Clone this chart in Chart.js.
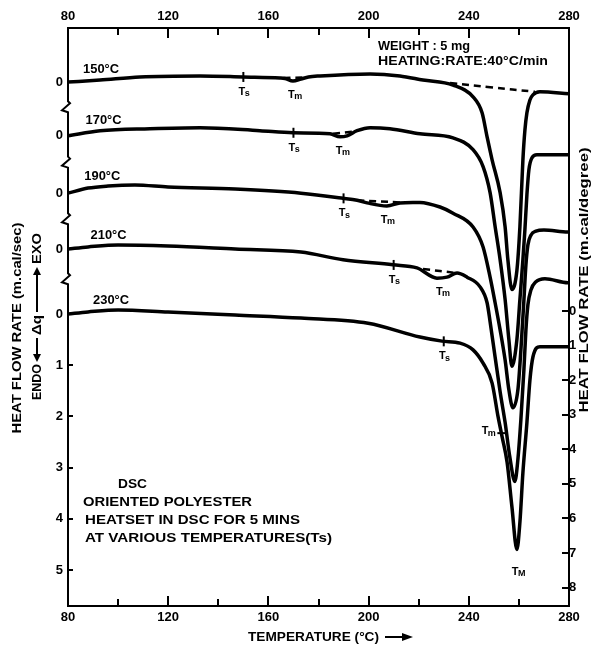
<!DOCTYPE html>
<html>
<head>
<meta charset="utf-8">
<script src="https://cdn.jsdelivr.net/npm/chart.js@4/dist/chart.umd.min.js"></script>
<style>
html,body{margin:0;padding:0;background:#fff;}
#wrap{width:591px;height:646px;}
</style>
</head>
<body>
<div id="wrap"><canvas id="c" width="591" height="646"></canvas></div>
<script>
// ---------------- DATA ----------------
const xTickLabels = [80, 120, 160, 200, 240, 280];
const leftTickValues = [1, 2, 3, 4, 5];          // m.cal/sec (230 °C curve)
const rightTickValues = [0, 1, 2, 3, 4, 5, 6, 7, 8]; // m.cal/degree
const curveNames = ['150°C', '170°C', '190°C', '210°C', '230°C'];
const heatsetTemps = [150, 170, 190, 210, 230];   // Ts
const meltTemps = [170, 189, 207, 229, 253];      // Tm
const peakMeltTemp = 259.2;                       // TM
const baselineOffsets = [-4.53, -3.48, -2.36, -1.27, 0]; // zero of each trace on the left scale

const temp150 = [80, 92.8, 108.7, 132.7, 149.9, 164.6, 166.6, 169.8, 173.0, 176.0, 180.6, 200.6, 212.5, 221.7, 233.7, 241.7, 245.3, 247.3, 249.3, 252.5, 254.5, 255.6, 257.2, 259.2, 260.4, 261.6, 262.4, 263.2, 264.4, 265.6, 268.4, 280];
const flow150 = [0, -0.04, -0.10, -0.12, -0.10, -0.08, -0.07, -0.02, -0.06, -0.10, -0.12, -0.16, -0.12, -0.04, 0.06, 0.29, 0.60, 1.07, 1.52, 2.16, 2.83, 3.47, 4.05, 3.68, 2.83, 1.52, 0.94, 0.60, 0.35, 0.25, 0.19, 0.23];

const temp170 = [80, 92.8, 112.7, 132.7, 156.6, 169.8, 184.6, 188.6, 191.4, 195.4, 200.6, 208.5, 220.5, 233.7, 241.7, 245.7, 248.5, 250.5, 252.5, 254.5, 256.0, 257.2, 259.2, 260.4, 261.6, 262.4, 263.2, 264.0, 265.2, 267.2, 280];
const flow170 = [0, -0.10, -0.14, -0.16, -0.10, -0.06, -0.04, 0.02, 0.00, -0.10, -0.16, -0.14, -0.04, 0.04, 0.27, 0.60, 1.11, 1.77, 2.42, 3.20, 3.98, 4.50, 3.98, 3.20, 2.42, 1.83, 1.15, 0.66, 0.43, 0.37, 0.37];

const temp190 = [80, 88, 96, 106.7, 119.9, 146.7, 173, 189.8, 195.4, 199.4, 207.3, 212.5, 217.7, 220.5, 228.5, 233.7, 241.7, 245.7, 248.5, 250.5, 252.5, 254.5, 256.0, 257.6, 259.6, 260.8, 262.0, 262.8, 263.6, 264.8, 266.8, 270.0, 279.6, 280];
const flow190 = [0, -0.10, -0.14, -0.16, -0.12, -0.08, 0, 0.10, 0.14, 0.19, 0.25, 0.19, 0.18, 0.18, 0.27, 0.39, 0.66, 1.05, 1.64, 2.14, 2.67, 3.26, 3.84, 4.19, 3.84, 3.06, 2.09, 1.40, 1.01, 0.82, 0.74, 0.72, 0.76, 0.76];

const temp210 = [80, 88, 100, 119.9, 146.7, 173, 189.8, 209.7, 219.3, 227.3, 231.3, 235.3, 239.3, 244.5, 247.3, 248.5, 250.5, 252.5, 254.5, 256.4, 258.4, 259.6, 260.8, 262.0, 262.8, 263.6, 264.8, 266.8, 270.4, 279.6, 280];
const flow210 = [0, -0.04, -0.08, -0.06, 0, 0.06, 0.21, 0.31, 0.37, 0.57, 0.55, 0.47, 0.55, 0.74, 1.05, 1.42, 2.11, 2.79, 3.39, 4.07, 4.54, 4.11, 3.33, 2.36, 1.58, 1.09, 0.80, 0.64, 0.58, 0.66, 0.66];

const temp230 = [80, 88, 100, 119.9, 146.7, 173, 199.8, 220.5, 229.3, 236.5, 241.7, 245.7, 249.3, 251.7, 253.3, 255.3, 257.2, 259.2, 260.4, 261.6, 263.2, 264.4, 265.6, 268.4, 280];
const flow230 = [0, -0.04, -0.08, -0.04, 0.02, 0.08, 0.18, 0.45, 0.53, 0.57, 0.70, 0.96, 1.35, 2.01, 2.40, 2.90, 3.76, 4.60, 4.07, 3.10, 2.12, 1.29, 0.84, 0.64, 0.64];

// dashed (interpolated) baselines, per trace, own units
const dashBase150Temp = [232.5, 248.5, 266.4];
const dashBase150Flow = [0.02, 0.10, 0.19];
const dashTm150Temp = [166, 174];   const dashTm150Flow = [-0.08, -0.09];
const dashTm170Temp = [185.8, 193.4]; const dashTm170Flow = [-0.04, -0.08];
const dashTm190Temp = [195.4, 212.5]; const dashTm190Flow = [0.14, 0.18];
const dashTm210Temp = [221.7, 235.3]; const dashTm210Flow = [0.39, 0.47];

// ---------------- BUILD ----------------
const FONT = "'Liberation Sans', 'DejaVu Sans', Arial, sans-serif";
const temps = [temp150, temp170, temp190, temp210, temp230];
const flows = [flow150, flow170, flow190, flow210, flow230];

function interp(xs, ys, t) {
  for (let i = 1; i < xs.length; i++) {
    if (t <= xs[i]) {
      const f = (t - xs[i - 1]) / (xs[i] - xs[i - 1]);
      return ys[i - 1] + f * (ys[i] - ys[i - 1]);
    }
  }
  return ys[ys.length - 1];
}
function toPoints(ts, vs, off) { return ts.map((t, i) => ({ x: t, y: vs[i] + off })); }

const datasets = [];
for (let k = 0; k < 5; k++) {
  datasets.push({
    label: curveNames[k], data: toPoints(temps[k], flows[k], baselineOffsets[k]),
    borderColor: '#000', borderWidth: 3.5, pointRadius: 0, fill: false,
    cubicInterpolationMode: 'monotone', borderJoinStyle: 'round', borderCapStyle: 'round'
  });
}
const dashSets = [
  [dashBase150Temp, dashBase150Flow, 0],
  [dashTm150Temp, dashTm150Flow, 0],
  [dashTm170Temp, dashTm170Flow, 1],
  [dashTm190Temp, dashTm190Flow, 2],
  [dashTm210Temp, dashTm210Flow, 3]
];
dashSets.forEach(([ts, vs, k]) => {
  datasets.push({
    label: 'dash', data: toPoints(ts, vs, baselineOffsets[k]),
    borderColor: '#000', borderWidth: 2.5, borderDash: [7, 5], pointRadius: 0,
    fill: false, tension: 0.4
  });
});
// Ts markers (vertical ticks on each trace)
datasets.push({
  label: 'Ts', showLine: false,
  data: heatsetTemps.map((t, k) => ({ x: t, y: interp(temps[k], flows[k], t) + baselineOffsets[k] })),
  pointStyle: 'line', pointRotation: 90, pointRadius: 5, pointBorderWidth: 2, pointBorderColor: '#000'
});
// Tm marker on 230 trace (horizontal tick)
datasets.push({
  label: 'Tm230', showLine: false,
  data: [{ x: meltTemps[4], y: interp(temp230, flow230, meltTemps[4]) + baselineOffsets[4] }],
  pointStyle: 'line', pointRotation: 0, pointRadius: 4, pointBorderWidth: 2, pointBorderColor: '#000'
});

function drawFitted(ctx, text, x, y, w, size, opts) {
  opts = opts || {};
  ctx.save();
  ctx.font = (opts.weight || 'bold') + ' ' + size + 'px ' + FONT;
  const m = ctx.measureText(text).width;
  ctx.translate(x, y);
  if (opts.rotate) ctx.rotate(opts.rotate);
  ctx.scale(w / m, 1);
  ctx.textAlign = opts.align || 'left';
  ctx.textBaseline = 'middle';
  ctx.fillStyle = '#000';
  ctx.fillText(text, 0, 0);
  ctx.restore();
}
function drawSub(ctx, main, sub, x, y, align) {
  ctx.save();
  ctx.fillStyle = '#000'; ctx.textBaseline = 'middle'; ctx.textAlign = 'left';
  ctx.font = 'bold 11px ' + FONT; const w1 = ctx.measureText(main).width;
  ctx.font = 'bold 9px ' + FONT; const w2 = ctx.measureText(sub).width;
  const x0 = align === 'right' ? x - w1 - w2 : x - (w1 + w2) / 2;
  ctx.font = 'bold 11px ' + FONT; ctx.fillText(main, x0, y);
  ctx.font = 'bold 9px ' + FONT; ctx.fillText(sub, x0 + w1 - 0.5, y + 2);
  ctx.restore();
}
// "ENDO <-- Δq --> EXO" rotated, drawn along its own axis
function drawEndoExo(ctx, cx, cy) {
  ctx.save();
  ctx.translate(cx, cy);
  ctx.rotate(-Math.PI / 2);
  ctx.fillStyle = '#000'; ctx.strokeStyle = '#000'; ctx.lineWidth = 2;
  ctx.textBaseline = 'middle';
  ctx.font = 'bold 13px ' + FONT;
  const put = (txt, x0, w) => {
    const m = ctx.measureText(txt).width;
    ctx.save(); ctx.translate(x0, 0); ctx.scale(w / m, 1); ctx.textAlign = 'left'; ctx.fillText(txt, 0, 0); ctx.restore();
  };
  put('ENDO', -84, 36);
  // arrow toward ENDO
  ctx.beginPath(); ctx.moveTo(-22, 0); ctx.lineTo(-40, 0); ctx.stroke();
  ctx.beginPath(); ctx.moveTo(-46, 0); ctx.lineTo(-38, -4); ctx.lineTo(-38, 4); ctx.closePath(); ctx.fill();
  put('Δq', -19, 20);
  // arrow toward EXO
  ctx.beginPath(); ctx.moveTo(4, 0); ctx.lineTo(42, 0); ctx.stroke();
  ctx.beginPath(); ctx.moveTo(49, 0); ctx.lineTo(41, -4); ctx.lineTo(41, 4); ctx.closePath(); ctx.fill();
  put('EXO', 52, 31);
  ctx.restore();
}

const decor = {
  id: 'decor',
  afterDraw(chart) {
    const ctx = chart.ctx, ca = chart.chartArea;
    const xs = chart.scales.x, ys = chart.scales.y, y2 = chart.scales.y2;
    ctx.save();
    ctx.strokeStyle = '#000'; ctx.lineWidth = 2;
    // x tick marks (inside), top and bottom
    for (let t = 100; t <= 260; t += 20) {
      const px = Math.round(xs.getPixelForValue(t));
      const len = (t % 40 === 0) ? 10 : 7;
      ctx.beginPath(); ctx.moveTo(px, ca.top); ctx.lineTo(px, ca.top + len); ctx.stroke();
      ctx.beginPath(); ctx.moveTo(px, ca.bottom); ctx.lineTo(px, ca.bottom - len); ctx.stroke();
    }
    // left ticks
    leftTickValues.forEach(v => {
      const py = Math.round(ys.getPixelForValue(v));
      ctx.beginPath(); ctx.moveTo(ca.left, py); ctx.lineTo(ca.left + 5, py); ctx.stroke();
    });
    // right ticks
    rightTickValues.forEach(v => {
      const py = Math.round(y2.getPixelForValue(v));
      ctx.beginPath(); ctx.moveTo(ca.right, py); ctx.lineTo(ca.right - 7, py); ctx.stroke();
    });
    // axis breaks between stacked zeros
    for (let k = 0; k < 4; k++) {
      const a = ys.getPixelForValue(baselineOffsets[k]);
      const b = ys.getPixelForValue(baselineOffsets[k + 1]);
      const yb = a + (b - a) * 0.45;
      ctx.fillStyle = '#fff';
      ctx.fillRect(ca.left - 2, yb - 7, 5, 14);
      ctx.beginPath();
      ctx.moveTo(ca.left, yb - 8);
      ctx.lineTo(ca.left, yb - 5);
      ctx.lineTo(ca.left + 2, yb - 3);
      ctx.lineTo(ca.left - 6, yb + 4);
      ctx.lineTo(ca.left, yb + 6);
      ctx.lineTo(ca.left, yb + 8);
      ctx.stroke();
    }
    ctx.restore();

    // curve temperature labels
    const labelTemps = [86, 87, 86.5, 89, 90];
    curveNames.forEach((name, k) => {
      const px = xs.getPixelForValue(labelTemps[k]);
      const py = ys.getPixelForValue(interp(temps[k], flows[k], labelTemps[k] + 8) + baselineOffsets[k]) - 10;
      drawFitted(ctx, name, px, py, 36, 12);
    });
    // Ts labels
    heatsetTemps.forEach((t, k) => {
      const px = xs.getPixelForValue(t);
      const py = ys.getPixelForValue(interp(temps[k], flows[k], t) + baselineOffsets[k]) + 15;
      drawSub(ctx, 'T', 's', px + 1, py);
    });
    // Tm labels
    for (let k = 0; k < 4; k++) {
      const t = meltTemps[k];
      const px = xs.getPixelForValue(t);
      const py = ys.getPixelForValue(interp(temps[k], flows[k], t) + baselineOffsets[k]) + 14;
      drawSub(ctx, 'T', 'm', px + 2, py);
    }
    {
      const t = meltTemps[4];
      const px = xs.getPixelForValue(t);
      const py = ys.getPixelForValue(interp(temp230, flow230, t) + baselineOffsets[4]) - 2;
      drawSub(ctx, 'T', 'm', px - 5, py, 'right');
    }
    {
      const px = xs.getPixelForValue(peakMeltTemp);
      const py = ys.getPixelForValue(interp(temp230, flow230, peakMeltTemp) + baselineOffsets[4]) + 22;
      drawSub(ctx, 'T', 'M', px + 2, py);
    }

    // annotations
    drawFitted(ctx, 'WEIGHT : 5 mg', 378, 47, 92, 12);
    drawFitted(ctx, 'HEATING:RATE:40°C/min', 378, 62, 170, 12);
    drawFitted(ctx, 'DSC', 118, 484, 29, 13, { weight: '600' });
    drawFitted(ctx, 'ORIENTED POLYESTER', 83, 502, 169, 13, { weight: '600' });
    drawFitted(ctx, 'HEATSET IN DSC FOR 5 MINS', 85, 520, 215, 13, { weight: '600' });
    drawFitted(ctx, 'AT VARIOUS TEMPERATURES(Ts)', 85, 538, 247, 13, { weight: '600' });

    // axis titles
    drawFitted(ctx, 'HEAT FLOW RATE (m.cal/sec)', 17, 328, 211, 13, { rotate: -Math.PI / 2, align: 'center' });
    drawEndoExo(ctx, 37, 316);
    drawFitted(ctx, 'HEAT FLOW RATE (m.cal/degree)', 584, 280, 265, 13, { rotate: -Math.PI / 2, align: 'center' });
    drawFitted(ctx, 'TEMPERATURE (°C)', 248, 637, 131, 13);
    ctx.save();
    ctx.strokeStyle = '#000'; ctx.fillStyle = '#000'; ctx.lineWidth = 2;
    ctx.beginPath(); ctx.moveTo(385, 637); ctx.lineTo(404, 637); ctx.stroke();
    ctx.beginPath(); ctx.moveTo(413, 637); ctx.lineTo(402, 633); ctx.lineTo(402, 641); ctx.closePath(); ctx.fill();
    ctx.restore();
  }
};

const tickFont = { family: FONT, size: 13, weight: 'bold' };
const isOffsetZero = v => baselineOffsets.some(o => Math.abs(o - v) < 1e-6);

new Chart(document.getElementById('c'), {
  type: 'line',
  data: { datasets },
  plugins: [decor],
  options: {
    responsive: false, animation: false, devicePixelRatio: 1,
    layout: { padding: 0 },
    plugins: { legend: { display: false }, tooltip: { enabled: false }, title: { display: false } },
    scales: {
      x: {
        type: 'linear', position: 'bottom', min: 80, max: 280,
        afterBuildTicks: s => { s.ticks = xTickLabels.map(v => ({ value: v })); },
        ticks: { font: tickFont, color: '#000', padding: 4, autoSkip: false, maxRotation: 0 },
        grid: { display: false, drawTicks: false },
        border: { display: true, color: '#000', width: 2 },
        afterFit: s => { s.height = 40; }
      },
      xTop: {
        type: 'linear', position: 'top', min: 80, max: 280,
        afterBuildTicks: s => { s.ticks = xTickLabels.map(v => ({ value: v })); },
        ticks: { font: tickFont, color: '#000', padding: 4, autoSkip: false, maxRotation: 0 },
        grid: { display: false, drawTicks: false },
        border: { display: true, color: '#000', width: 2 },
        afterFit: s => { s.height = 28; }
      },
      y: {
        type: 'linear', position: 'left', reverse: true, min: -5.586, max: 5.703,
        afterBuildTicks: s => { s.ticks = baselineOffsets.concat(leftTickValues).map(v => ({ value: v })); },
        ticks: {
          font: tickFont, color: '#000', padding: 5, autoSkip: false,
          callback: v => isOffsetZero(v) ? '0' : String(v)
        },
        grid: { display: false, drawTicks: false },
        border: { display: true, color: '#000', width: 2 },
        afterFit: s => { s.width = 68; }
      },
      y2: {
        type: 'linear', position: 'right', reverse: true, min: -8.18, max: 8.53,
        afterBuildTicks: s => { s.ticks = rightTickValues.map(v => ({ value: v })); },
        ticks: { font: tickFont, color: '#000', padding: 0, autoSkip: false },
        grid: { display: false, drawTicks: false },
        border: { display: true, color: '#000', width: 2 },
        afterFit: s => { s.width = 22; }
      }
    }
  }
});
</script>
</body>
</html>
